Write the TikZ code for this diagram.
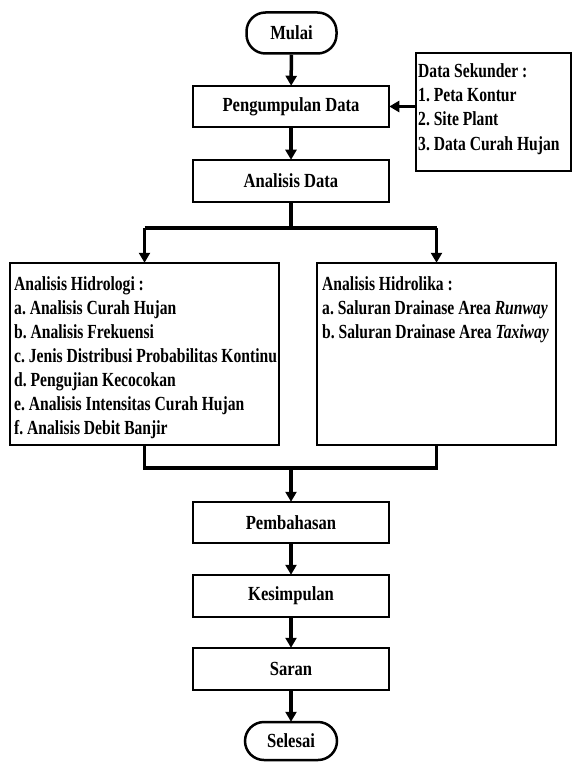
\documentclass[tikz,border=0pt]{standalone}
\usepackage{fontspec}
\setmainfont{Liberation Serif}[FakeStretch=0.83]
\newfontfamily\narrowfont{Liberation Serif}[FakeStretch=0.78]
\usetikzlibrary{arrows.meta}
\tikzset{
  box/.style={draw, line width=2.5pt, minimum width=196pt, minimum height=41pt, inner sep=0pt, font=\bfseries\fontsize{20}{22}\selectfont},
  term/.style={box, minimum width=90pt, rounded corners=19pt},
  bigbox/.style={draw, line width=2.5pt, inner sep=0pt},
  txt/.style={anchor=north west, align=left, inner sep=0pt, font=\narrowfont\bfseries\fontsize{20}{24}\selectfont\frenchspacing},
  conn/.style={line width=3.5pt},
  arr/.style={conn, -{Triangle[length=10pt,width=11pt]}, shorten >=-1pt},
}
\begin{document}
\frenchspacing
\begin{tikzpicture}[x=1pt,y=-1pt]
\useasboundingbox (0,0) rectangle (574,762);
\node[term] (mulai) at (291.5,33) {Mulai};
\node[box] (peng) at (291,106.5) {Pengumpulan Data};
\node[box, minimum height=42pt] (anal) at (291,181) {Analisis Data};
\node[bigbox, minimum width=155pt, minimum height=118pt] (sek) at (493.5,112) {};
\node[txt, font=\narrowfont\bfseries\fontsize{20}{24.4}\selectfont\frenchspacing] (sektxt) at (418,63) {Data Sekunder :\\1. Peta Kontur\\2. Site Plant\\3. Data Curah Hujan};
\node[bigbox, minimum width=269pt, minimum height=182pt] (hidro) at (144.5,354) {};
\node[txt] (hidrotxt) at (14,276) {Analisis Hidrologi :\\a. Analisis Curah Hujan\\b. Analisis Frekuensi\\c. Jenis Distribusi Probabilitas Kontinu\\d. Pengujian Kecocokan\\e. Analisis Intensitas Curah Hujan\\f. Analisis Debit Banjir};
\node[bigbox, minimum width=239pt, minimum height=182pt] (hidrolika) at (436.5,354) {};
\node[txt] (hidrolikatxt) at (322,276) {Analisis Hidrolika :\\a. Saluran Drainase Area \textit{Runway}\\b. Saluran Drainase Area \textit{Taxiway}};
\node[box] (pemb) at (291,522.5) {Pembahasan};
\node[box, minimum height=42pt] (kes) at (291,596) {Kesimpulan};
\node[box, minimum height=42pt] (saran) at (291,669) {Saran};
\node[term, minimum width=92pt, minimum height=38pt] (sel) at (291,741) {Selesai};
\coordinate (br) at (291,228);
\coordinate (mg) at (291,468);
\draw[arr] (mulai) -- (peng);
\draw[arr] (peng) -- (anal);
\draw[arr] (sek.west |- peng) -- (peng.east);
\draw[conn] (anal.south) -- (br);
\draw[conn] (br -| hidro.north) -- (br -| hidrolika.north);
\draw[arr] (br -| hidro.north) -- (hidro.north);
\draw[arr] (br -| hidrolika.north) -- (hidrolika.north);
\draw[conn] (hidro.south) -- (hidro.south |- mg) -- (hidrolika.south |- mg) -- (hidrolika.south);
\draw[arr] (mg) -- (pemb);
\draw[arr] (pemb) -- (kes);
\draw[arr] (kes) -- (saran);
\draw[arr] (saran) -- (sel);
\end{tikzpicture}
\end{document}
